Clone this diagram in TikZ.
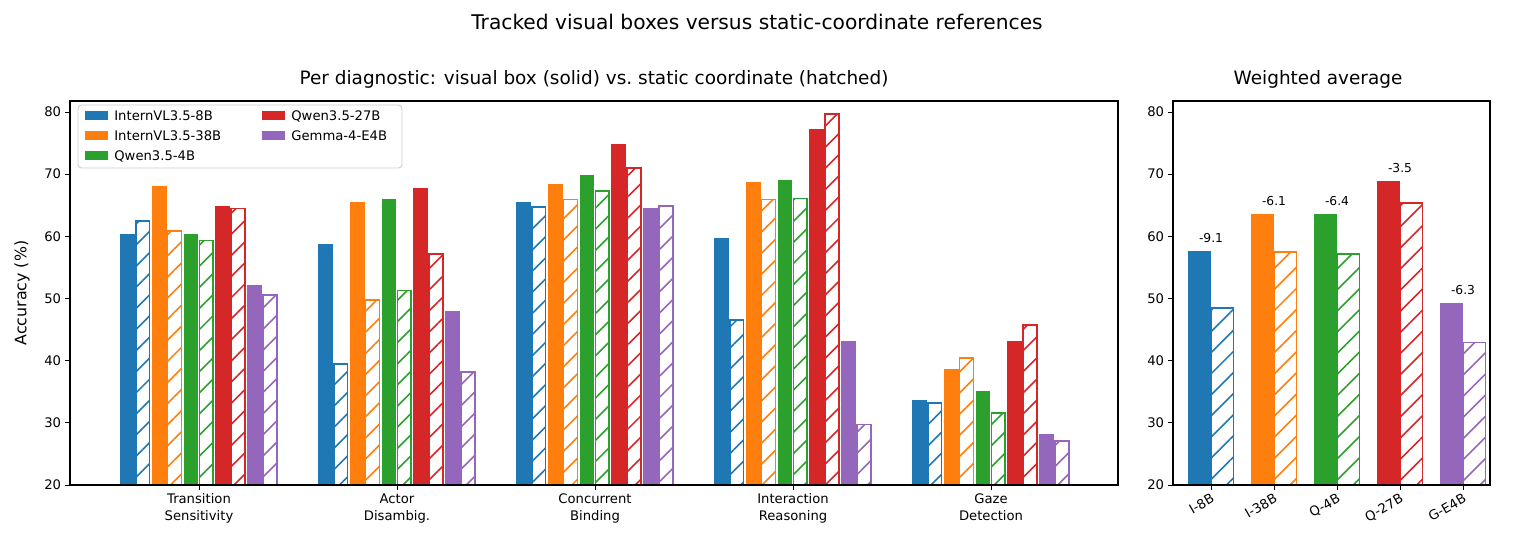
\documentclass[tikz,border=0pt]{standalone}
\usepackage{fontspec}
\setmainfont{DejaVu Sans}
\usetikzlibrary{patterns.meta,positioning}
\definecolor{cA}{HTML}{1F77B4}
\definecolor{cB}{HTML}{FF7F0E}
\definecolor{cC}{HTML}{2CA02C}
\definecolor{cD}{HTML}{D62728}
\definecolor{cE}{HTML}{9467BD}
\tikzset{
  solidbar/.style={fill=#1,draw=none},
  hatchbar/.style={draw=#1,line width=0.9pt,fill=white,
    postaction={pattern={Lines[angle=45,distance=8.5pt,line width=0.9pt]},pattern color=#1}},
  frame/.style={draw=black,line width=0.6pt},
  tick/.style={line width=0.5pt},
  ticklab/.style={font=\fontsize{7.5}{9}\selectfont},
}
\begin{document}
\begin{tikzpicture}[x=0.02cm,y=-0.02cm]
\useasboundingbox (0,0) rectangle (1515,550);
% titles
\node (title) at (757,22) {\fontsize{11.5}{13}\selectfont Tracked visual boxes versus static-coordinate references};
\node (ltitle) at (594,79) {\fontsize{10.5}{12}\selectfont Per diagnostic: visual box (solid) vs.\ static coordinate (hatched)};
\node (rtitle) at (1318,79) {\fontsize{10.5}{12}\selectfont Weighted average};
\node[rotate=90] (ylab) at (22,293) {\fontsize{9}{11}\selectfont Accuracy (\%)};

% left panel bars: {group}/{pairs solid,hatched}
\foreach \g/\vals in {0/{60.3,62.5,68.1,60.9,60.3,59.3,64.8,64.5,52.1,50.6},
                      1/{58.7,39.5,65.5,49.8,66.0,51.3,67.8,57.2,48.0,38.2},
                      2/{65.5,64.7,68.4,65.9,69.9,67.3,74.8,71.0,64.5,64.9},
                      3/{59.7,46.5,68.7,65.9,69.0,66.1,77.3,79.7,43.1,29.7},
                      4/{33.6,33.2,38.6,40.4,35.2,31.6,43.2,45.7,28.2,27.1}}{
  \foreach \v [count=\i from 0] in \vals {
    \pgfmathtruncatemacro\p{int(\i/2)}
    \pgfmathtruncatemacro\h{mod(\i,2)}
    \pgfmathsetmacro\xl{199+198*\g-79+\p*31.8+\h*15.3}
    \pgfmathsetmacro\yt{485-(\v-20)*6.2167}
    \pgfmathparse{{"cA","cB","cC","cD","cE"}[\p]}
    \edef\col{\pgfmathresult}
    \ifnum\h=0
      \fill[solidbar=\col] (\xl,485) rectangle (\xl+14.8,\yt);
    \else
      \draw[hatchbar=\col] (\xl+0.5,485) rectangle (\xl+14.3,\yt);
    \fi
  }
}
\draw[frame] (70,101) rectangle (1118,485);
\foreach \t in {20,30,...,80}{
  \draw[tick] (70,{485-(\t-20)*6.2167}) -- ++(-5,0)
    node[left,ticklab,inner sep=2pt] {\t};
}
\foreach \g/\lab in {0/{Transition\\Sensitivity},1/{Actor\\Disambig.},2/{Concurrent\\Binding},
                     3/{Interaction\\Reasoning},4/{Gaze\\Detection}}{
  \draw[tick] (199+198*\g,485) -- ++(0,5)
    node[below,ticklab,align=center,inner sep=2pt,font=\fontsize{7.5}{9.5}\selectfont] {\lab};
}

% legend
\draw[draw=black!20,fill=white,fill opacity=0.8,rounded corners=2pt,line width=0.5pt] (78,105) rectangle (402,168);
\foreach \c/\lab/\x/\y in {cA/InternVL3.5-8B/85/116,cB/InternVL3.5-38B/85/136,cC/Qwen3.5-4B/85/156,
                           cD/Qwen3.5-27B/262/116,cE/Gemma-4-E4B/262/136}{
  \fill[\c] (\x,\y-5) rectangle (\x+23,\y+4);
  \node[anchor=west,ticklab,inner sep=0pt] at (\x+29,\y) {\lab};
}

% right panel
\foreach \v/\w/\d/\c/\lab [count=\k from 0] in {57.6/48.5/-9.1/cA/I-8B,63.6/57.5/-6.1/cB/I-38B,
       63.6/57.2/-6.4/cC/Q-4B,68.9/65.4/-3.5/cD/Q-27B,49.2/42.9/-6.3/cE/G-E4B}{
  \pgfmathsetmacro\cx{1211+63*\k}
  \pgfmathsetmacro\ya{485-(\v-20)*6.2167}
  \pgfmathsetmacro\yb{485-(\w-20)*6.2167}
  \fill[solidbar=\c] (\cx-23,485) rectangle (\cx,\ya);
  \draw[hatchbar=\c] (\cx+0.5,485) rectangle (\cx+22.5,\yb);
  \node[ticklab,font=\fontsize{7}{8}\selectfont] at (\cx,\ya-13) {\d};
  \draw[tick] (\cx,485) -- ++(0,5)
    node[ticklab,rotate=30,anchor=north east,inner sep=1pt] {\lab};
}
\draw[frame] (1173,101) rectangle (1490,485);
\foreach \t in {20,30,...,80}{
  \draw[tick] (1173,{485-(\t-20)*6.2167}) -- ++(-5,0)
    node[left,ticklab,inner sep=2pt] {\t};
}
\end{tikzpicture}
\end{document}
